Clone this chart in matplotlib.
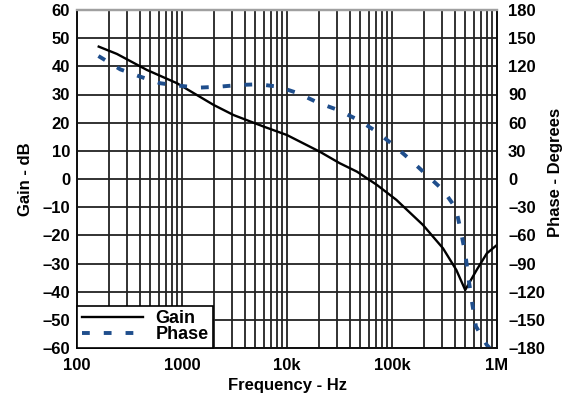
import numpy as np
import matplotlib.pyplot as plt
from matplotlib.ticker import FixedLocator, LogLocator, NullFormatter

# Gain curve (Hz, dB)
gain_freq = [161, 240, 464, 896, 2000, 3100, 6000, 10000, 20500, 31800, 46400,
             71800, 110000, 197000, 306000, 410000, 498000, 640000, 800000, 1000000]
gain_db = [47.0, 44.4, 38.7, 34.0, 26.3, 22.7, 18.6, 15.6, 9.7, 5.6, 2.6,
           -2.1, -7.4, -16.3, -24.6, -32.3, -39.4, -32.3, -26.4, -23.4]

# Phase curve (Hz, degrees)
phase_freq = [160, 258, 400, 620, 930, 1440, 2240, 3480, 5380, 8300, 12800, 19700,
              30600, 47700, 70000, 103000, 150000, 214000, 306000, 406000, 450000,
              498000, 540000, 580000, 630000, 800000, 850000]
phase_deg = [131, 116.8, 109, 102, 99.4, 97.3, 98.3, 100.1, 100.9, 98.3, 91.3, 81.3,
             73.5, 62.9, 51.1, 36.2, 20.3, 4.3, -11.7, -31.2, -54.3,
             -79, -109, -132, -157, -176.8, -180]

gain_ticks = list(range(-60, 61, 10))
phase_ticks = list(range(-180, 181, 30))
freq_ticks = [100, 1000, 10000, 100000, 1000000]
freq_labels = ["100", "1000", "10k", "100k", "1M"]

plt.rcParams['font.family'] = ['Liberation Sans', 'DejaVu Sans']
plt.rcParams['font.weight'] = 'bold'

fig = plt.figure(figsize=(5.68, 4.0), dpi=100)
ax = fig.add_axes([77 / 568, 52 / 400, 420 / 568, 338 / 400])
ax2 = ax.twinx()

grid_color = '#222222'
ax.set_xscale('log')
ax.set_xlim(100, 1e6)
ax.set_ylim(-60, 60)
ax2.set_ylim(-180, 180)

ax.xaxis.set_major_locator(FixedLocator(freq_ticks))
ax.xaxis.set_minor_locator(LogLocator(base=10, subs=np.arange(2, 10)))
ax.xaxis.set_minor_formatter(NullFormatter())
ax.set_xticklabels(freq_labels)
ax.set_yticks(gain_ticks)
ax.set_yticklabels([str(t).replace('-', '\u2013') for t in gain_ticks])
ax2.set_yticks(phase_ticks)
ax2.set_yticklabels([str(t).replace('-', '\u2013') for t in phase_ticks])

ax.grid(True, which='both', axis='x', color=grid_color, linewidth=1.3)
ax.grid(True, which='major', axis='y', color=grid_color, linewidth=1.3)

ax.tick_params(axis='y', which='both', length=0, labelsize=12, pad=5)
ax.tick_params(axis='x', which='both', length=0, labelsize=12, pad=7)
ax2.tick_params(which='both', length=0, labelsize=12, pad=8)

for a in (ax, ax2):
    for side in ('left', 'right', 'bottom'):
        a.spines[side].set_color('#111111')
        a.spines[side].set_linewidth(1.3)
    a.spines['top'].set_color('#a0a0a0')
    a.spines['top'].set_linewidth(1.6)

gain_line, = ax.plot(gain_freq, gain_db, color='black', linewidth=1.7, label='Gain')
phase_line, = ax2.plot(phase_freq, phase_deg, color='#1f4e8c', linewidth=2.8,
                       dashes=(2, 3.6), label='Phase')

ax.set_xlabel('Frequency - Hz', fontsize=12, fontweight='bold')
ax.set_ylabel('Gain - dB', fontsize=12, fontweight='bold')
ax2.set_ylabel('Phase - Degrees', fontsize=12, fontweight='bold')
ax.xaxis.set_label_coords(0.5, -30 / 338)
ax.yaxis.set_label_coords(-44 / 420, 0.5)
ax2.yaxis.set_label_coords(471 / 420, 0.52)

leg = ax2.legend(handles=[gain_line, phase_line], loc='lower left',
                 fontsize=13, frameon=True, fancybox=False, framealpha=1,
                 edgecolor='black', borderaxespad=0.0, handlelength=3.4,
                 labelspacing=-0.05, borderpad=0.25, handletextpad=0.7)
leg.get_frame().set_linewidth(1.2)
for t in leg.get_texts():
    t.set_fontweight('bold')

fig.savefig('out.png', dpi=100)
